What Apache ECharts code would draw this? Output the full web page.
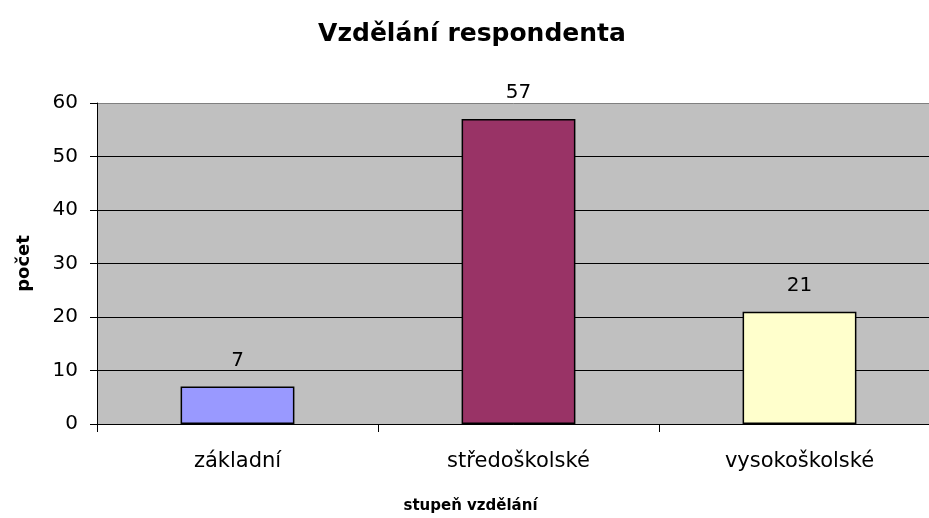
<!DOCTYPE html>
<html>
<head>
<meta charset="utf-8">
<script src="https://cdn.jsdelivr.net/npm/echarts@6/dist/echarts.min.js"></script>
<style>
  html, body { margin: 0; padding: 0; background: #fff; }
  #chart { width: 929px; height: 518px; }
</style>
</head>
<body>
<div id="chart"></div>
<script>
// data
const categories = ['základní', 'středoškolské', 'vysokoškolské'];
const counts = [7, 57, 21];
const barColors = ['#9999FF', '#993366', '#FFFFCC'];

const myChart = echarts.init(document.getElementById('chart'));
const font = 'DejaVu Sans, Verdana, sans-serif';

const option = {
  animation: false,
  title: {
    text: 'Vzdělání respondenta',
    left: 467,
    top: 17,
    textAlign: 'center',
    textStyle: { fontFamily: font, fontSize: 25, fontWeight: 'bold', color: '#000' }
  },
  grid: {
    left: 97, right: -11, top: 103, bottom: 94,
    outerBoundsMode: 'none',
    show: true, backgroundColor: '#C0C0C0', borderWidth: 0
  },
  xAxis: {
    type: 'category',
    data: categories,
    name: 'stupeň vzdělání',
    nameLocation: 'middle',
    nameGap: 75,
    nameTextStyle: { fontFamily: font, fontSize: 15, fontWeight: 'bold', color: '#000', padding: [0, 0, 0, -96] },
    axisLine: { lineStyle: { color: '#000', width: 1 } },
    axisTick: { show: true, length: 8, lineStyle: { color: '#000' } },
    axisLabel: { fontFamily: font, fontSize: 21, color: '#000', margin: 27 }
  },
  yAxis: {
    type: 'value',
    min: 0, max: 60, interval: 10,
    name: 'počet',
    nameLocation: 'middle',
    nameGap: 64,
    nameRotate: 90,
    nameTextStyle: { fontFamily: font, fontSize: 18, fontWeight: 'bold', color: '#000' },
    axisLine: { show: true, lineStyle: { color: '#000', width: 1 } },
    axisTick: { show: true, length: 7, lineStyle: { color: '#000' } },
    axisLabel: { fontFamily: font, fontSize: 20, color: '#000', margin: 19 },
    splitLine: { lineStyle: { color: ['#000', '#000', '#000', '#000', '#000', '#000', '#808080'], width: 1 } }
  },
  series: [{
    type: 'bar',
    barWidth: '40.5%',
    data: counts.map((v, i) => ({
      value: v,
      itemStyle: { color: barColors[i], borderColor: '#000', borderWidth: 1.5 }
    })),
    label: {
      show: true, position: 'top', distance: 16,
      fontFamily: font, fontSize: 20, color: '#000'
    }
  }]
};
myChart.setOption(option);
window.addEventListener('resize', () => myChart.resize());
</script>
</body>
</html>
